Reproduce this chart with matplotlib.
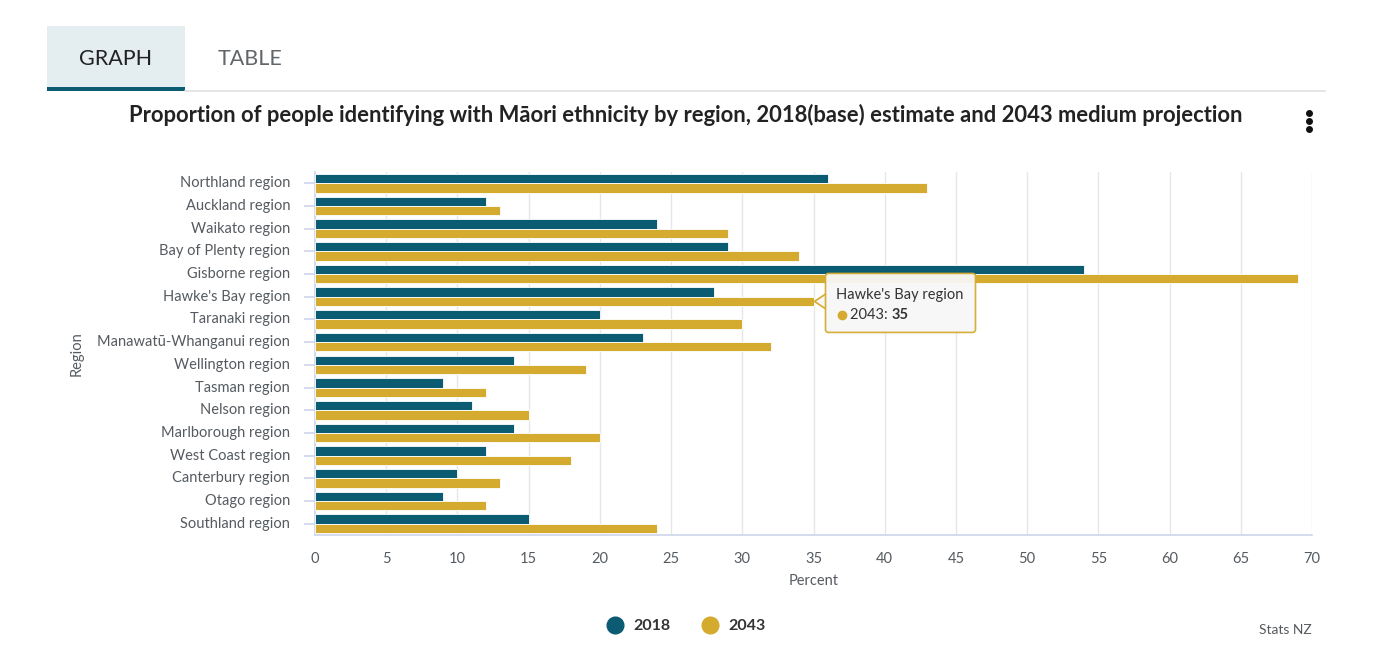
import matplotlib
matplotlib.use("Agg")
import matplotlib.pyplot as plt
from matplotlib.patches import Rectangle, Polygon, FancyBboxPatch
import numpy as np

plt.rcParams['font.family'] = ['Lato', 'DejaVu Sans']

# data
regions = ["Northland region", "Auckland region", "Waikato region", "Bay of Plenty region",
           "Gisborne region", "Hawke's Bay region", "Taranaki region",
           "Manawatū-Whanganui region", "Wellington region", "Tasman region",
           "Nelson region", "Marlborough region", "West Coast region",
           "Canterbury region", "Otago region", "Southland region"]
pct_2018 = [36, 12, 24, 29, 54, 28, 20, 23, 14, 9, 11, 14, 12, 10, 9, 15]
pct_2043 = [43, 13, 29, 34, 69, 35, 30, 32, 19, 12, 15, 20, 18, 13, 12, 24]
xticks = list(range(0, 75, 5))

C2018 = "#0b5b73"
C2043 = "#d4ab2f"
AXC = "#ccd6eb"
TXT = "#555b60"

W, H = 1399, 662
fig = plt.figure(figsize=(W / 100, H / 100), dpi=100)

# plot area in pixels
L, R, T, B = 315, 1312, 172, 535
ax = fig.add_axes([L / W, (H - B) / H, (R - L) / W, (B - T) / H])

y = np.arange(len(regions))
bh = 0.41
ax.barh(y - bh / 2, pct_2018, height=bh, color=C2018, edgecolor="white", linewidth=0.6, zorder=3)
ax.barh(y + bh / 2, pct_2043, height=bh, color=C2043, edgecolor="white", linewidth=0.6, zorder=3)

ax.set_xlim(0, 70)
ax.set_ylim(len(regions) - 0.5, -0.5)
ax.set_xticks(xticks)
ax.set_xticklabels([str(t) for t in xticks], fontsize=10.5, color=TXT)
ax.set_yticks(y)
ax.set_yticklabels(regions, fontsize=10.5, color=TXT, va="bottom")
for lab in ax.get_yticklabels():
    lab.set_va("center")
ax.tick_params(axis="x", length=0, pad=12)
ax.tick_params(axis="y", length=8, color=AXC, width=1.2, pad=10)
ax.grid(axis="x", color="#e6e6e6", linewidth=1, zorder=0)
for s in ["top", "right"]:
    ax.spines[s].set_visible(False)
for s in ["left", "bottom"]:
    ax.spines[s].set_color(AXC)
    ax.spines[s].set_linewidth(1.2)
ax.set_xlabel("Percent", fontsize=10.5, color=TXT, labelpad=6)
ax.set_ylabel("Region", fontsize=10.5, color=TXT, labelpad=10)

# overlay in pixel coordinates for page decorations
ov = fig.add_axes([0, 0, 1, 1], zorder=10)
ov.set_xlim(0, W)
ov.set_ylim(H, 0)
ov.axis("off")
ov.patch.set_alpha(0)

# tabs
ov.add_patch(Rectangle((47, 26), 138, 64, color="#e4edf0", lw=0))
ov.add_patch(Rectangle((47, 87), 138, 4, color=C2018, lw=0))
ov.plot([185, 1325], [91, 91], color="#e0e0e0", lw=1.2)
ov.text(116, 59, "GRAPH", ha="center", va="center", fontsize=15.5, color="#222222")
ov.text(250, 59, "TABLE", ha="center", va="center", fontsize=15.5, color="#62666a")

# title and menu
ov.text(686, 115, "Proportion of people identifying with Māori ethnicity by region, "
        "2018(base) estimate and 2043 medium projection",
        ha="center", va="center", fontsize=15.8, fontweight="bold", color="#222222")
for dy in (113, 121, 129):
    ov.plot(1309, dy, "o", ms=4, color="#111111")

# legend
for cx, lab, c in [(615, "2018", C2018), (710, "2043", C2043)]:
    ov.plot(cx, 625, "o", ms=12, color=c)
    ov.text(cx + 18, 626, lab, ha="left", va="center", fontsize=11.5,
            fontweight="bold", color="#333333")
ov.text(1312, 630, "Stats NZ", ha="right", va="center", fontsize=10, color=TXT)

# tooltip anchored to Hawke's Bay 2043 bar
i = regions.index("Hawke's Bay region")
px, py = ax.transData.transform((pct_2043[i], i + bh / 2))
py = H - py
bx0, by0, bw, bhh = px + 12, py - 28, 150, 59
ov.add_patch(Polygon([[px + 1, py], [bx0 + 1, py - 8], [bx0 + 1, py + 8]],
                     closed=True, facecolor="#f7f7f7", edgecolor=C2043, lw=1.2, zorder=11))
ov.add_patch(FancyBboxPatch((bx0, by0), bw, bhh, boxstyle="round,pad=0,rounding_size=3",
                            facecolor="#f7f7f7", edgecolor=C2043, lw=1.2, zorder=12, alpha=0.95))
ov.add_patch(Rectangle((bx0 + 1.5, py - 7), 2, 14, color="#f7f7f7", lw=0, zorder=13))
ov.text(bx0 + 11, by0 + 22, regions[i], ha="left", va="center", fontsize=10.5, color="#333333", zorder=14)
ov.plot(bx0 + 16, by0 + 42, "o", ms=6, color=C2043, zorder=14)
t1 = ov.text(bx0 + 25, by0 + 42, "2043: ", ha="left", va="center", fontsize=10.5, color="#333333", zorder=14)
ov.annotate(str(pct_2043[i]), xy=(1, 0.5), xycoords=t1, ha="left", va="center",
            fontsize=10.5, fontweight="bold", color="#333333", zorder=14)

fig.savefig("out.png", dpi=100, facecolor="white")
